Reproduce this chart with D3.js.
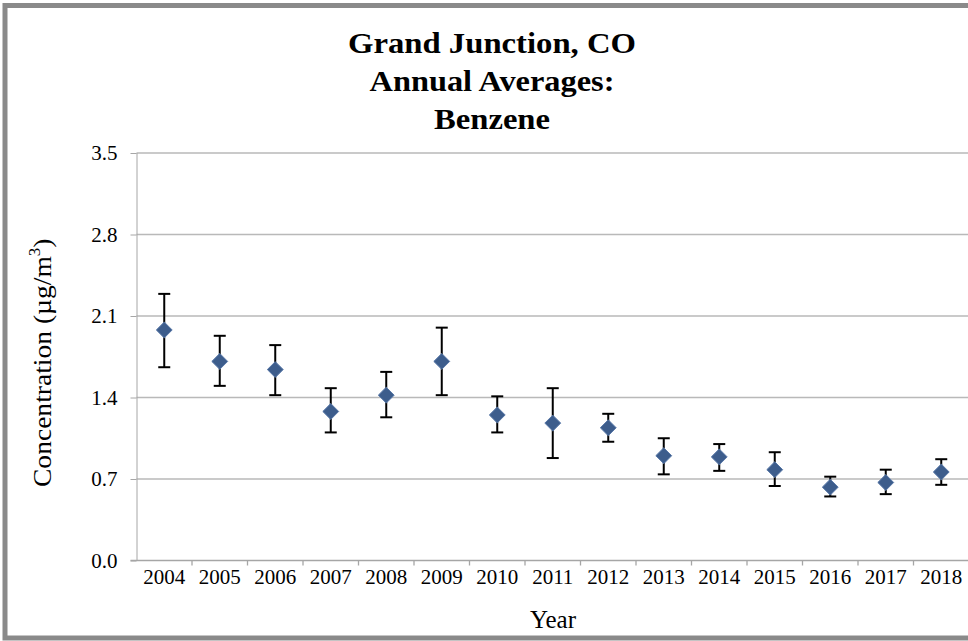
<!DOCTYPE html>
<html>
<head>
<meta charset="utf-8">
<script src="https://cdn.jsdelivr.net/npm/d3@7"></script>
<style>
  body { margin: 0; background: #fff; }
  svg { display: block; font-family: "Liberation Serif", "Times New Roman", serif; }
  .axis path, .axis line { stroke: #a6a6a6; }
  .axis text { fill: #000; font-size: 21px; font-family: "Liberation Serif", serif; }
  .title { font-family: "Liberation Serif", serif; font-weight: 700; }
</style>
</head>
<body>
<svg id="chart" width="968" height="641"></svg>
<script>
const years = ["2004", "2005", "2006", "2007", "2008", "2009", "2010", "2011", "2012", "2013", "2014", "2015", "2016", "2017", "2018"];
const means = [1.98, 1.71, 1.64, 1.28, 1.42, 1.71, 1.25, 1.18, 1.14, 0.90, 0.89, 0.78, 0.63, 0.67, 0.76];
const upper = [2.29, 1.93, 1.85, 1.48, 1.62, 2.00, 1.41, 1.48, 1.26, 1.05, 1.00, 0.93, 0.72, 0.78, 0.87];
const lower = [1.66, 1.50, 1.42, 1.10, 1.23, 1.42, 1.10, 0.88, 1.02, 0.74, 0.77, 0.64, 0.55, 0.57, 0.65];
const yTicks = [0, 0.7, 1.4, 2.1, 2.8, 3.5];
const titleLines = ["Grand Junction, CO", "Annual Averages:", "Benzene"];

const svg = d3.select("#chart");
const margin = {left: 136.5, top: 153, bottom: 80.5};
const plotW = 55.5 * years.length;
const height = 641 - margin.top - margin.bottom;

// outer frame
svg.append("rect")
  .attr("x", 5).attr("y", 5.5)
  .attr("width", 1000).attr("height", 632.5)
  .attr("fill", "#fff")
  .attr("stroke", "#8a8a8a")
  .attr("stroke-width", 5);
svg.append("line")
  .attr("x1", 3).attr("x2", 968).attr("y1", 638.5).attr("y2", 638.5)
  .attr("stroke", "#8a8a8a").attr("stroke-width", 2);

const g = svg.append("g").attr("transform", `translate(${margin.left},${margin.top})`);

const x = d3.scaleBand().domain(years).range([0, plotW]);
const y = d3.scaleLinear().domain([0, 3.5]).range([height, 0]);

// gridlines
g.selectAll(".grid")
  .data(yTicks.slice(1))
  .enter().append("line")
  .attr("class", "grid")
  .attr("x1", 0).attr("x2", plotW)
  .attr("y1", d => y(d)).attr("y2", d => y(d))
  .attr("stroke", "#b9b9b9").attr("stroke-width", 1.3);

const yAxis = g.append("g")
  .attr("class", "axis")
  .call(d3.axisLeft(y).tickValues(yTicks).tickFormat(d3.format(".1f")).tickSize(6).tickPadding(13));
yAxis.select(".domain").attr("d", `M0.5,0V${height}`);

// x axis: ticks between categories
const xAxis = g.append("g")
  .attr("class", "axis")
  .attr("transform", `translate(0,${height})`);
xAxis.append("line")
  .attr("x1", -6).attr("x2", plotW).attr("y1", 0).attr("y2", 0)
  .attr("stroke", "#a6a6a6").attr("stroke-width", 1.3);
xAxis.selectAll(".xtick")
  .data(years.slice(1))
  .enter().append("line")
  .attr("x1", d => x(d)).attr("x2", d => x(d))
  .attr("y1", 0).attr("y2", 5)
  .attr("stroke", "#a6a6a6").attr("stroke-width", 1.3);
xAxis.selectAll(".xlabel")
  .data(years)
  .enter().append("text")
  .attr("x", d => x(d) + x.bandwidth() / 2)
  .attr("y", 23)
  .attr("text-anchor", "middle")
  .attr("font-size", 21)
  .text(d => d);

// error bars
const rows = years.map((yr, i) => ({yr, m: means[i], hi: upper[i], lo: lower[i]}));
const bars = g.selectAll(".err").data(rows).enter().append("g").attr("class", "err")
  .attr("stroke", "#000").attr("stroke-width", 2);
bars.append("line")
  .attr("x1", d => x(d.yr) + x.bandwidth() / 2).attr("x2", d => x(d.yr) + x.bandwidth() / 2)
  .attr("y1", d => y(d.hi)).attr("y2", d => y(d.lo));
bars.append("line")
  .attr("x1", d => x(d.yr) + x.bandwidth() / 2 - 6).attr("x2", d => x(d.yr) + x.bandwidth() / 2 + 6)
  .attr("y1", d => y(d.hi)).attr("y2", d => y(d.hi));
bars.append("line")
  .attr("x1", d => x(d.yr) + x.bandwidth() / 2 - 6).attr("x2", d => x(d.yr) + x.bandwidth() / 2 + 6)
  .attr("y1", d => y(d.lo)).attr("y2", d => y(d.lo));

// diamond markers
const diamond = d3.symbol().type(d3.symbolDiamond2).size(160);
g.selectAll(".pt").data(rows).enter().append("path")
  .attr("class", "pt")
  .attr("d", diamond)
  .attr("transform", d => `translate(${x(d.yr) + x.bandwidth() / 2},${y(d.m)})`)
  .attr("fill", "#3d5d8c")
  .attr("stroke", "#5878a8")
  .attr("stroke-width", 1);

// titles, stretched to the reference line widths
const titleY = [53, 91, 129];
const titleW = [288, 245, 116];
svg.selectAll(".title").data(titleLines).enter().append("text")
  .attr("class", "title")
  .attr("x", (d, i) => 492 - titleW[i] / 2)
  .attr("y", (d, i) => titleY[i])
  .attr("textLength", (d, i) => titleW[i])
  .attr("lengthAdjust", "spacingAndGlyphs")
  .attr("font-size", 30)
  .text(d => d);

const yt = svg.append("text")
  .attr("transform", `translate(51,${margin.top + height / 2 + 6}) rotate(-90) scale(1.06,1)`)
  .attr("text-anchor", "middle")
  .attr("font-size", 26);
yt.append("tspan").text("Concentration (µg/m");
yt.append("tspan").attr("font-size", 16).attr("dy", -11).text("3");
yt.append("tspan").attr("dy", 11).text(")");

svg.append("text")
  .attr("x", 553).attr("y", 628)
  .attr("text-anchor", "middle")
  .attr("font-size", 25)
  .text("Year");
</script>
</body>
</html>
